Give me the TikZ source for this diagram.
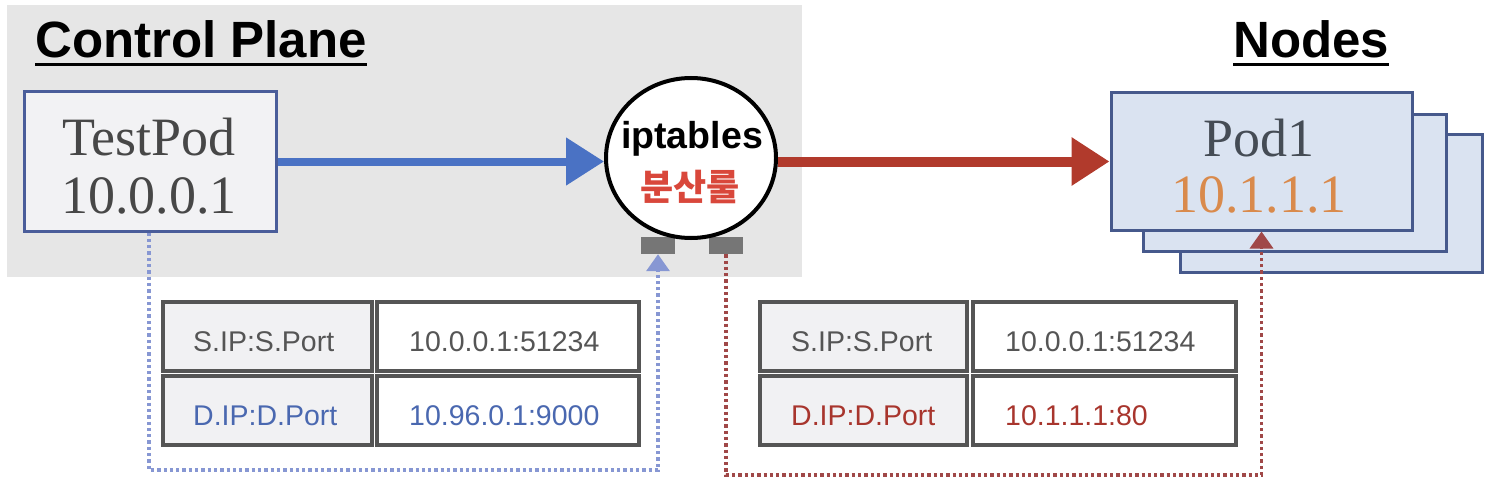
\documentclass[tikz,border=0pt]{standalone}
\usepackage{fontspec}
\setmainfont{Liberation Serif}
\newfontfamily\sansf{Liberation Sans}
\newfontfamily\krf{Noto Sans CJK KR}
\usetikzlibrary{arrows.meta,shapes.geometric}
\definecolor{bggray}{HTML}{E6E6E6}
\definecolor{tpfill}{HTML}{F2F2F4}
\definecolor{tpborder}{HTML}{4A5D9A}
\definecolor{podfill}{HTML}{DAE3F1}
\definecolor{podborder}{HTML}{46598C}
\definecolor{arrblue}{HTML}{4A72C4}
\definecolor{arrred}{HTML}{B13A2C}
\definecolor{krred}{HTML}{D9473B}
\definecolor{portgray}{HTML}{767676}
\definecolor{cellborder}{HTML}{555555}
\definecolor{cellfill}{HTML}{F1F1F3}
\definecolor{celltext}{HTML}{555555}
\definecolor{txtblue}{HTML}{4A68B0}
\definecolor{txtred}{HTML}{A8352D}
\definecolor{dotblue}{HTML}{8797D3}
\definecolor{dotred}{HTML}{A04848}
\definecolor{podtext}{HTML}{454C55}
\definecolor{iporange}{HTML}{D98A4C}
\definecolor{tptext}{HTML}{474747}
\begin{document}
\begin{tikzpicture}[x=1pt,y=-1pt,
  titletext/.style={inner sep=0pt, anchor=base west, font=\sansf\bfseries\fontsize{51}{56}\selectfont},
  tpbox/.style={draw=tpborder, fill=tpfill, line width=3pt, inner sep=0pt},
  podbox/.style={draw=podborder, fill=podfill, line width=3pt, inner sep=0pt},
  serifbig/.style={inner sep=0pt, anchor=base, font=\fontsize{54}{60}\selectfont},
  portbox/.style={fill=portgray, inner sep=0pt, minimum width=34pt, minimum height=17pt},
  cellA/.style={draw=cellborder, fill=cellfill, line width=3.5pt, inner sep=0pt, minimum height=69pt},
  cellB/.style={draw=cellborder, fill=white, line width=3.5pt, inner sep=0pt, minimum height=69pt},
  celltxt/.style={inner sep=0pt, anchor=base west, font=\sansf\fontsize{28.5}{32}\selectfont},
  bigarrow/.style={line width=8pt, -{Triangle[length=38pt,width=46pt]}},
  dotline/.style={line width=3.5pt, dash pattern=on 3.3pt off 3pt, -{Triangle[length=17pt,width=23pt]}}
]
\useasboundingbox (0,0) rectangle (1488,484);
\fill[bggray] (7,5) rectangle (802,277);

% titles
\node[titletext] (cp) at (35,58) {Control Plane};
\draw[line width=3pt] ([yshift=-7pt]cp.base west) -- ([yshift=-7pt]cp.base east);
\node[titletext] (nd) at (1233,58) {Nodes};
\draw[line width=3pt] ([yshift=-7pt]nd.base west) -- ([yshift=-7pt]nd.base east);

% TestPod
\node[tpbox, minimum width=252pt, minimum height=139pt] (tp) at (150,161.5) {};
\node[serifbig, text=tptext] (tpname) at (149,156) {TestPod};
\node[serifbig, text=tptext] (tpip) at (149,213) {10.0.0.1};

% pod stack
\node[podbox, minimum width=302pt, minimum height=137pt] (pod3) at (1331,203.5) {};
\node[podbox, minimum width=303pt, minimum height=136pt] (pod2) at (1294.5,183) {};
\node[podbox, minimum width=301pt, minimum height=137pt] (pod1) at (1261.5,161.5) {};
\node[serifbig, text=podtext] (podname) at (1259,157) {Pod1};
\node[serifbig, text=iporange] (podip) at (1259,212) {10.1.1.1};

% ports and iptables
\node[portbox] (p1) at (658,245.5) {};
\node[portbox] (p2) at (726,245.5) {};
\node[draw=black, fill=white, ellipse, line width=4pt, inner sep=0pt, minimum width=170pt, minimum height=160pt] (ipt) at (691,158) {};
\node[inner sep=0pt, anchor=base, font=\sansf\bfseries\fontsize{37.5}{40}\selectfont] (ipttxt) at (692,148) {iptables};
\node[inner sep=0pt, anchor=base, text=krred, font=\krf\bfseries\fontsize{36}{40}\selectfont] (krtxt) at (690,200) {분산룰};

% main arrows
\draw[bigarrow, draw=arrblue] (tp.east) -- (tp.east -| ipt.west);
\draw[bigarrow, line width=10pt, draw=arrred] (ipt.east |- pod1.west) -- (pod1.west);

% tables
\node[cellA, minimum width=209pt] (l11) at (267.5,336.5) {};
\node[cellB, minimum width=262pt] (l12) at (508,336.5) {};
\node[cellA, minimum width=209pt] (l21) at (267.5,410.5) {};
\node[cellB, minimum width=262pt] (l22) at (508,410.5) {};
\node[celltxt, text=celltext] (l11t) at (193,351) {S.IP:S.Port};
\node[celltxt, text=celltext] (l12t) at (409,351) {10.0.0.1:51234};
\node[celltxt, text=txtblue] (l21t) at (193,425) {D.IP:D.Port};
\node[celltxt, text=txtblue] (l22t) at (409,425) {10.96.0.1:9000};

\node[cellA, minimum width=207pt] (r11) at (863.5,336.5) {};
\node[cellB, minimum width=263pt] (r12) at (1104.5,336.5) {};
\node[cellA, minimum width=207pt] (r21) at (863.5,410.5) {};
\node[cellB, minimum width=263pt] (r22) at (1104.5,410.5) {};
\node[celltxt, text=celltext] (r11t) at (791,351) {S.IP:S.Port};
\node[celltxt, text=celltext] (r12t) at (1005,351) {10.0.0.1:51234};
\node[celltxt, text=txtred] (r21t) at (791,425) {D.IP:D.Port};
\node[celltxt, text=txtred] (r22t) at (1005,425) {10.1.1.1:80};

% dotted connectors
\coordinate (bl) at (149,470);
\coordinate (rl) at (726,475);
\draw[dotline, draw=dotblue] (tp.south -| bl) -- (bl) -| (p1.south);
\draw[dotline, draw=dotred] (p2.south) -- (rl) -| (pod1.south);
\end{tikzpicture}
\end{document}
